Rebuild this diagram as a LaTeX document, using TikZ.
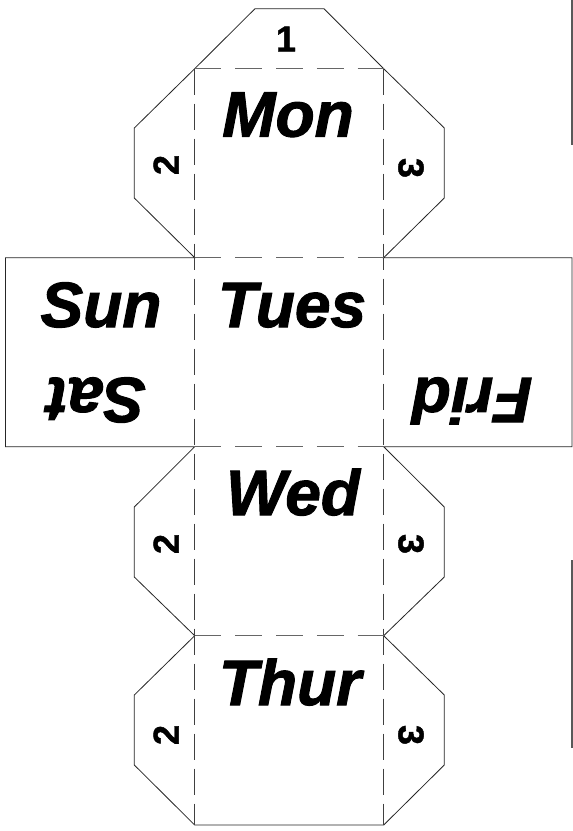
\documentclass[tikz,border=0pt]{standalone}
\usepackage{fontspec}
\setmainfont{Liberation Sans}
\newfontfamily\dayfont{Liberation Sans}[BoldItalicFeatures={FakeBold=1.6}]
\newfontfamily\numfont{Liberation Sans}[BoldFeatures={FakeBold=1.2}]
\tikzset{
 fold/.style={draw=black!60,line width=0.9pt,dash pattern=on 26.7pt off 14pt},
 foldv/.style={draw=black!75,line width=0.9pt,dash pattern=on 26.7pt off 8.3pt},
 cut/.style={draw=black!85,line width=0.8pt},
 day/.style={font=\dayfont\fontsize{64}{64}\bfseries\itshape,inner sep=0pt,anchor=base},
 num/.style={font=\numfont\fontsize{36}{36}\bfseries,inner sep=0pt},
}
\begin{document}
\begin{tikzpicture}[x=1pt,y=-1pt]
\useasboundingbox (0,0) rectangle (573,831);
\fill[white] (0,0) rectangle (573,831);
% cut outlines
\draw[cut] (194.7,68.7) -- (255,8.7) -- (324,8.7) -- (383.7,68.7) -- (444.3,128) -- (444.3,198) -- (383.7,257.7) -- (572,257.7) -- (572,446.7) -- (383.7,446.7) -- (444.3,507) -- (444.3,577) -- (383.7,635.7) -- (444.3,695) -- (444.3,765) -- (383.7,825) -- (194.7,825) -- (134.3,765) -- (134.3,695) -- (194.7,635.7) -- (134.3,577) -- (134.3,507) -- (194.7,446.7) -- (5.5,446.7) -- (5.5,257.7) -- (194.7,257.7) -- (134.3,198) -- (134.3,128) -- cycle;
% fold lines
\draw[foldv] (194.7,68.7) -- (194.7,825);
\draw[foldv] (383.7,68.7) -- (383.7,825);
\draw[fold] (194.7,68.7) -- (383.7,68.7);
\draw[fold] (194.7,257.7) -- (383.7,257.7);
\draw[fold] (194.7,446.7) -- (383.7,446.7);
\draw[fold] (194.7,635.7) -- (383.7,635.7);
% margin marks
\draw[draw=black!65,line width=1.2pt] (572,0) -- (572,145);
\draw[draw=black!65,line width=1.2pt] (572,560) -- (572,748);
% labels
\node[day] (mon) at (288,136.5) {Mon};
\node[day] (tues) at (292,327) {Tues};
\node[day] (wed) at (293,515) {Wed};
\node[day] (thur) at (290,705) {Thur};
\node[day] (sun) at (101,327) {Sun};
\node[day,rotate=180] (sat) at (96,378) {Sat};
\node[day,rotate=180] (frid) at (472,378) {Frid};
\node[num] (n1) at (286,39) {1};
\node[num,rotate=90] (n2a) at (166,165) {2};
\node[num,rotate=-90] (n3a) at (411,168) {3};
\node[num,rotate=90] (n2b) at (166,544) {2};
\node[num,rotate=-90] (n3b) at (411,544) {3};
\node[num,rotate=90] (n2c) at (166,735) {2};
\node[num,rotate=-90] (n3c) at (411,735) {3};
\end{tikzpicture}
\end{document}
